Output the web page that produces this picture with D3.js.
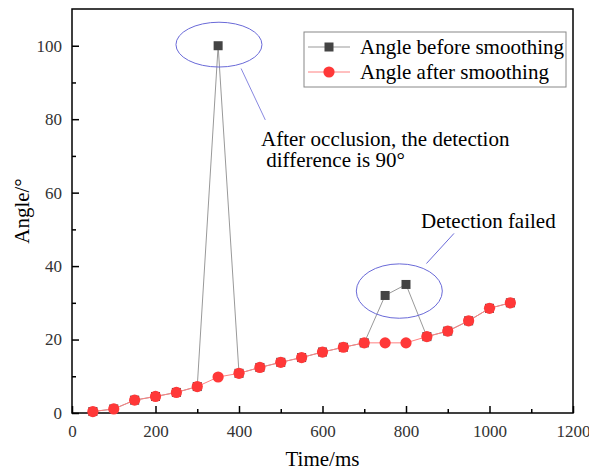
<!DOCTYPE html>
<html>
<head>
<meta charset="utf-8">
<script src="https://cdn.jsdelivr.net/npm/d3@7"></script>
<style>
  body { margin: 0; background: #fff; }
  svg text { font-family: "Liberation Serif", "Times New Roman", serif; }
</style>
</head>
<body>
<div id="chart"></div>
<script>
// time in ms
var times = [50, 100, 150, 200, 250, 300, 350, 400, 450, 500, 550, 600, 650, 700, 750, 800, 850, 900, 950, 1000, 1050];
var before = [0.4, 1.1, 3.5, 4.5, 5.6, 7.2, 100, 10.8, 12.4, 13.8, 15.1, 16.6, 17.9, 19.1, 32.0, 35.0, 20.8, 22.3, 25.1, 28.5, 30.0];
var after  = [0.4, 1.1, 3.5, 4.5, 5.6, 7.2, 9.8, 10.8, 12.4, 13.8, 15.1, 16.6, 17.9, 19.1, 19.1, 19.1, 20.8, 22.3, 25.1, 28.5, 30.0];
var xTicks = [0, 200, 400, 600, 800, 1000, 1200];
var yTicks = [0, 20, 40, 60, 80, 100];
var seriesNames = ["Angle before smoothing", "Angle after smoothing"];

var width = 589, height = 470;
var margin = {top: 9, right: 16, bottom: 57, left: 72};

var svg = d3.select("#chart").append("svg")
  .attr("width", width)
  .attr("height", height);

var x = d3.scaleLinear().domain([0, 1200]).range([margin.left, width - margin.right]);
var y = d3.scaleLinear().domain([0, 110]).range([height - margin.bottom, margin.top]);

// minor ticks
var xMinor = d3.range(100, 1200, 200);
var yMinor = d3.range(10, 110, 20);

var g = svg.append("g");

// x axis (ticks point inward)
g.append("g")
  .attr("transform", "translate(0," + y(0) + ")")
  .call(d3.axisBottom(x).tickValues(xTicks).tickSize(-7).tickPadding(12).tickFormat(d3.format("d")));
g.append("g")
  .attr("transform", "translate(0," + y(0) + ")")
  .call(d3.axisBottom(x).tickValues(xMinor).tickSize(-4).tickFormat(""));

g.append("g")
  .attr("transform", "translate(" + x(0) + ",0)")
  .call(d3.axisLeft(y).tickValues(yTicks).tickSize(-7).tickPadding(10).tickFormat(d3.format("d")));
g.append("g")
  .attr("transform", "translate(" + x(0) + ",0)")
  .call(d3.axisLeft(y).tickValues(yMinor).tickSize(-4).tickFormat(""));

g.selectAll("g").attr("font-family", null).attr("font-size", null);
g.selectAll(".domain").remove();
g.selectAll(".tick line").attr("stroke", "#000").attr("stroke-width", 1.5);
g.selectAll(".tick text")
  .style("font-size", "17px")
  .attr("fill", "#333");

// frame
svg.append("rect")
  .attr("x", x(0)).attr("y", y(110))
  .attr("width", x(1200) - x(0)).attr("height", y(0) - y(110))
  .attr("fill", "none").attr("stroke", "#000").attr("stroke-width", 1.5);

// axis titles
svg.append("text")
  .attr("x", (x(0) + x(1200)) / 2).attr("y", 466)
  .attr("text-anchor", "middle")
  .style("font-size", "21px")
  .text("Time/ms");

svg.append("text")
  .attr("transform", "translate(29," + ((y(0) + y(110)) / 2) + ") rotate(-90)")
  .attr("text-anchor", "middle")
  .style("font-size", "21px")
  .text("Angle/°");

var line = d3.line()
  .x(function(d, i) { return x(times[i]); })
  .y(function(d) { return y(d); });

// before smoothing
svg.append("path")
  .datum(before)
  .attr("d", line)
  .attr("fill", "none")
  .attr("stroke", "#999")
  .attr("stroke-width", 1);

svg.selectAll(".sq")
  .data(before)
  .enter().append("rect")
  .attr("class", "sq")
  .attr("x", function(d, i) { return x(times[i]) - 4.5; })
  .attr("y", function(d) { return y(d) - 4.5; })
  .attr("width", 9).attr("height", 9)
  .attr("fill", "#444");

// after smoothing
svg.append("path")
  .datum(after)
  .attr("d", line)
  .attr("fill", "none")
  .attr("stroke", "#ff8080")
  .attr("stroke-width", 1);

svg.selectAll(".dot")
  .data(after)
  .enter().append("circle")
  .attr("class", "dot")
  .attr("cx", function(d, i) { return x(times[i]); })
  .attr("cy", function(d) { return y(d); })
  .attr("r", 5.6)
  .attr("fill", "#ff3838");

// annotations
var annoColor = "#6a6ad8";
svg.append("ellipse")
  .attr("cx", x(352)).attr("cy", y(100.3))
  .attr("rx", x(103) - x(0)).attr("ry", y(0) - y(6.1))
  .attr("fill", "none").attr("stroke", annoColor).attr("stroke-width", 1);
svg.append("line")
  .attr("x1", x(405)).attr("y1", y(93.8))
  .attr("x2", x(463)).attr("y2", y(79.8))
  .attr("stroke", annoColor).attr("stroke-width", 0.8);

svg.append("ellipse")
  .attr("cx", x(784)).attr("cy", y(33.2))
  .attr("rx", x(103) - x(0)).attr("ry", y(0) - y(7.4))
  .attr("fill", "none").attr("stroke", annoColor).attr("stroke-width", 1);
svg.append("line")
  .attr("x1", x(849)).attr("y1", y(40.7))
  .attr("x2", x(915)).attr("y2", y(48.9))
  .attr("stroke", annoColor).attr("stroke-width", 1);

svg.append("text")
  .attr("x", 261).attr("y", 146)
  .style("font-size", "21px")
  .text("After occlusion, the detection");
svg.append("text")
  .attr("x", 261).attr("y", 167)
  .attr("xml:space", "preserve")
  .style("font-size", "21px")
  .text(" difference is 90°");

svg.append("text")
  .attr("x", 421).attr("y", 228)
  .style("font-size", "21px")
  .text("Detection failed");

// legend
var legend = svg.append("g").attr("transform", "translate(304,32)");
legend.append("rect")
  .attr("width", 262).attr("height", 55)
  .attr("fill", "#fff").attr("stroke", "#888").attr("stroke-width", 1);

var rows = legend.selectAll(".row")
  .data(seriesNames)
  .enter().append("g")
  .attr("transform", function(d, i) { return "translate(0," + (15 + i * 25) + ")"; });

rows.append("line")
  .attr("x1", 4).attr("x2", 46)
  .attr("stroke", function(d, i) { return i === 0 ? "#999" : "#ff8080"; })
  .attr("stroke-width", 1);

rows.filter(function(d, i) { return i === 0; }).append("rect")
  .attr("x", 20.5).attr("y", -4.5).attr("width", 9).attr("height", 9)
  .attr("fill", "#444");
rows.filter(function(d, i) { return i === 1; }).append("circle")
  .attr("cx", 25).attr("r", 5.6)
  .attr("fill", "#ff3838");

rows.append("text")
  .attr("x", 56).attr("y", 6.5)
  .style("font-size", "21px")
  .text(function(d) { return d; });
</script>
</body>
</html>
